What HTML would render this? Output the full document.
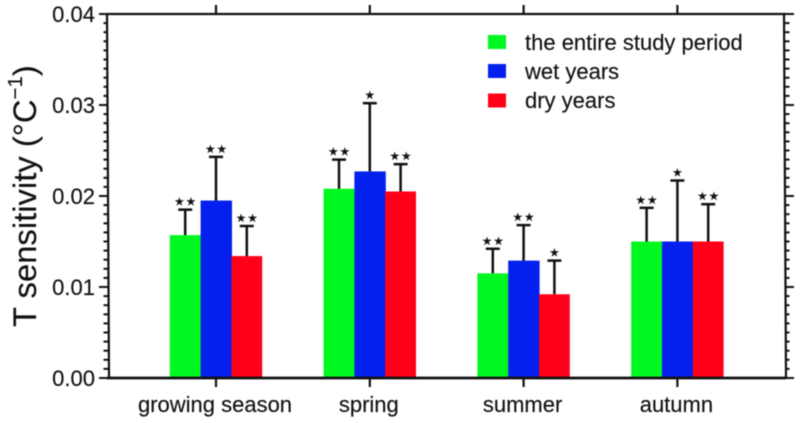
<!DOCTYPE html>
<html>
<head>
<meta charset="utf-8">
<style>
html,body{margin:0;padding:0;background:#fff;width:800px;height:423px;overflow:hidden}
svg{display:block;font-family:"Liberation Sans",Arial,sans-serif;filter:blur(0.45px)}
text{stroke:#111;stroke-width:0.15px}
</style>
</head>
<body>
<svg id="chart" width="800" height="423" viewBox="0 0 800 423" xmlns="http://www.w3.org/2000/svg">
  <g id="bars"></g>
  <g id="errors"></g>
  <g id="axes"></g>
  <text transform="translate(36,327) rotate(-90)" font-size="32.8" fill="#111">T sensitivity (°C<tspan font-size="20.5" dy="-14">−1</tspan><tspan dy="14">)</tspan></text>
  <g>
    <rect x="488" y="35" width="18" height="14" fill="#00f820"/>
    <text x="525" y="50" font-size="22" fill="#111">the entire study period</text>
    <rect x="488" y="64" width="18" height="14" fill="#0420ee"/>
    <text x="525" y="79" font-size="22" fill="#111">wet years</text>
    <rect x="488" y="93.5" width="18" height="14" fill="#ff0018"/>
    <text x="525" y="108" font-size="22" fill="#111">dry years</text>
  </g>
</svg>
<script>
const categories = ['growing season', 'spring', 'summer', 'autumn'];
const seriesNames = ['entire-period', 'wet-years', 'dry-years'];
const seriesColors = ['#00f820', '#0420ee', '#ff0018'];
const entireValues = [0.0157, 0.0208, 0.0115, 0.0150];
const wetValues = [0.0195, 0.0227, 0.0129, 0.0150];
const dryValues = [0.0134, 0.0205, 0.0092, 0.0150];
const entireUpper = [0.0185, 0.0240, 0.0142, 0.0187];
const wetUpper = [0.0243, 0.0302, 0.0168, 0.0217];
const dryUpper = [0.0167, 0.0235, 0.0129, 0.0191];
const entireStars = ['★★', '★★', '★★', '★★'];
const wetStars = ['★★', '★', '★★', '★'];
const dryStars = ['★★', '★★', '★', '★★'];
const yTicks = ['0.00', '0.01', '0.02', '0.03', '0.04'];

const values = [entireValues, wetValues, dryValues];
const uppers = [entireUpper, wetUpper, dryUpper];
const stars = [entireStars, wetStars, dryStars];

const NS = 'http://www.w3.org/2000/svg';
const left = 108, right = 785, top_ = 14, bottom = 378;
const yMax = 0.04;
const firstCenter = 216, catStep = 153.8, barW = 30.8;

function yScale(v) { return bottom - (v / yMax) * (bottom - top_); }
function xScale(i) { return firstCenter + i * catStep; }
function make(tag, attrs, parent) {
  const el = document.createElementNS(NS, tag);
  for (const k in attrs) el.setAttribute(k, attrs[k]);
  parent.appendChild(el);
  return el;
}
const barsG = document.getElementById('bars');
const errG = document.getElementById('errors');
const axesG = document.getElementById('axes');
const stroke = '#111';

categories.forEach(function (cat, c) {
  const slug = cat.replace(/\s+/g, '-');
  values.forEach(function (series, s) {
    const cx = xScale(c) + (s - 1) * barW;
    const yTop = yScale(series[c]);
    const yErr = yScale(uppers[s][c]);
    const bar = make('rect', { x: cx - barW / 2, y: yTop, width: barW + (s < 2 ? 0.6 : 0), height: bottom - yTop, fill: seriesColors[s] }, barsG);
    
    
    const stem = make('line', { x1: cx, x2: cx, y1: yTop, y2: yErr, stroke: stroke, 'stroke-width': 2.5 }, errG);
    
    
    const cap = make('line', { x1: cx - 7, x2: cx + 7, y1: yErr, y2: yErr, stroke: stroke, 'stroke-width': 2.5 }, errG);
    
    
    const star = make('text', { x: cx + 0.6, y: yErr - 4, 'text-anchor': 'middle', 'font-size': 11.5, fill: stroke, 'letter-spacing': 1.2 }, errG);
    star.style.fontFamily = '"DejaVu Sans",sans-serif';
    star.textContent = stars[s][c];
    
    
  });
  const tb = make('line', { x1: xScale(c), x2: xScale(c), y1: bottom, y2: bottom + 9, stroke: stroke, 'stroke-width': 2.2 }, axesG);
  
  
  const tt = make('line', { x1: xScale(c), x2: xScale(c), y1: top_, y2: top_ - 9, stroke: stroke, 'stroke-width': 2.2 }, axesG);
  
  
  const lab = make('text', { x: xScale(c) - 1, y: 412, 'text-anchor': 'middle', 'font-size': 22, fill: stroke }, axesG);
  lab.textContent = cat;
  
  
});

const frame = [
  ['axis-left', left, top_, left, bottom],
  ['axis-right', right, top_, right, bottom],
  ['axis-top', left, top_, right, top_],
  ['axis-bottom', left, bottom, right, bottom]
];
frame.forEach(function (f) {
  const isBottom = f[0] === 'axis-bottom';
  const ln = make('line', { x1: f[1] - 1, y1: f[2], x2: f[3] + 1, y2: f[4], stroke: stroke, 'stroke-width': isBottom ? 2.8 : 2.2 }, axesG);
  
  
});

const minorPerMajor = 10;
const minorCount = (yTicks.length - 1) * minorPerMajor;
for (let i = 0; i <= minorCount; i++) {
  const v = (i / minorCount) * yMax;
  const isMajor = i % minorPerMajor === 0;
  const y = yScale(v);
  const len = isMajor ? 9 : 4.5;
  const tl = make('line', { x1: left - len, x2: left, y1: y, y2: y, stroke: stroke, 'stroke-width': 2 }, axesG);
  
  
  const tr = make('line', { x1: right, x2: right + len, y1: y, y2: y, stroke: stroke, 'stroke-width': 2 }, axesG);
  
  
}
yTicks.forEach(function (t) {
  const lab = make('text', { x: 95, y: yScale(parseFloat(t)) + 8, 'text-anchor': 'end', 'font-size': 22, fill: stroke }, axesG);
  lab.textContent = t;
  
  
});
</script>
</body>
</html>
